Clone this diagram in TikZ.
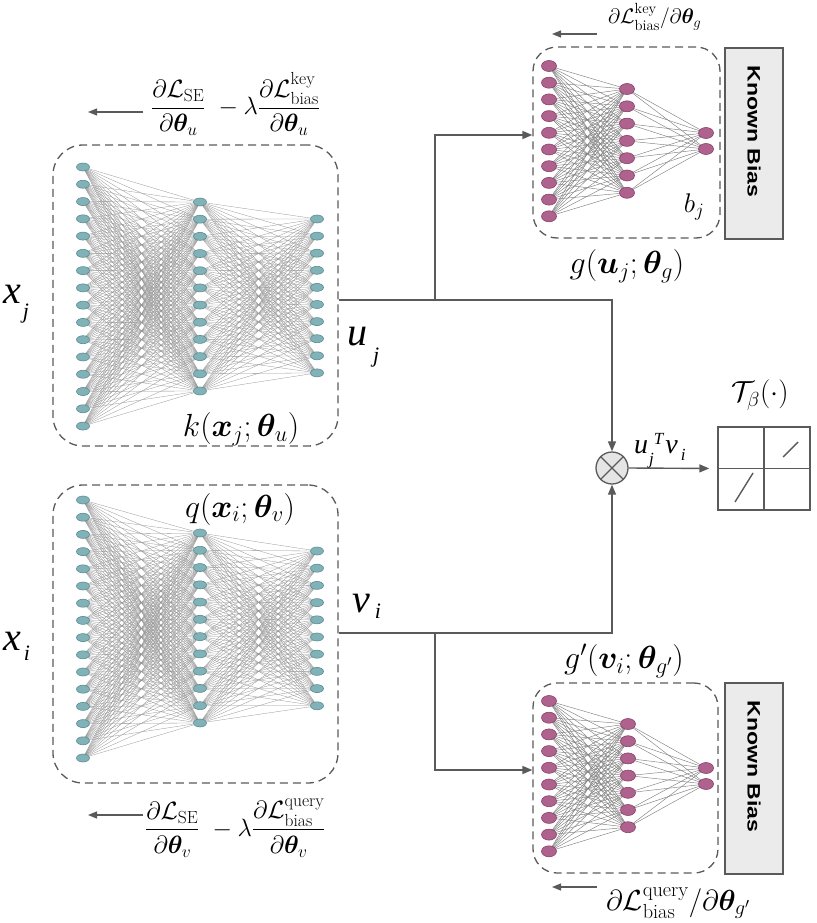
\IfFileExists{fix-cm.sty}{\RequirePackage{fix-cm}}{}
\documentclass[tikz,border=0pt]{standalone}
\usepackage{amsmath,bm}
\usepackage{fontspec}
\usetikzlibrary{arrows.meta,backgrounds,calc,shapes.geometric}
\newfontfamily\tms{Liberation Serif}
\newfontfamily\hel{Liberation Sans}
\definecolor{teala}{HTML}{80B2B8}
\definecolor{tealb}{HTML}{5B8C93}
\definecolor{maga}{HTML}{B0628F}
\definecolor{magb}{HTML}{874268}
\definecolor{dk}{HTML}{5A5A5A}
\newcommand{\mylayer}[6]{\foreach \k in {1,...,#5}{\node[#2] (#1\k) at (#3,{#4+(\k-1)*#6}) {};}}
\newcommand{\mylinks}[5]{\foreach \a in {1,...,#2}{\foreach \b in {1,...,#4}{\draw[#5] (#1\a.center) -- (#3\b.center);}}}
\newcommand{\smallsub}[2]{\raisebox{#1}{\fontsize{22}{22}\selectfont #2}}
\tikzset{
  tnode/.style={ellipse, draw=tealb, fill=teala, line width=0.6pt, minimum width=13pt, minimum height=8pt, inner sep=0pt},
  mnode/.style={ellipse, draw=magb, fill=maga, line width=0.6pt, minimum width=15pt, minimum height=11pt, inner sep=0pt},
  ledge/.style={draw=black!42, line width=0.3pt},
  redge/.style={draw=black!50, line width=0.45pt},
  netbox/.style={draw=dk, dash pattern=on 8pt off 5pt, line width=1.3pt, rounded corners=30pt, inner sep=0pt},
  kbias/.style={draw=dk, fill=black!8, line width=1.3pt, rotate=-90, minimum width=191pt, minimum height=58pt, inner sep=0pt, font=\hel\bfseries\fontsize{18}{18}\selectfont},
  conn/.style={draw=dk, line width=1.4pt},
  arr/.style={conn, -{Triangle[length=10pt,width=8pt]}},
  garr/.style={draw=dk, line width=1.2pt, -{Triangle[length=9pt,width=7pt]}},
  lbl/.style={inner sep=0pt, font=\fontsize{32}{36}\selectfont},
  big/.style={inner sep=0pt, anchor=base west, font=\tms\itshape\fontsize{40}{40}\selectfont},
}
\begin{document}
\begin{tikzpicture}[x=1pt,y=-1pt]
\useasboundingbox (0,0) rectangle (816,923);
% ---- top-left network k
\mylayer{kA}{tnode}{83}{167}{16}{17.27}
\mylayer{kB}{tnode}{200}{202}{12}{17.18}
\mylayer{kC}{tnode}{317}{219}{10}{17.1}
% ---- bottom-left network q
\mylayer{qA}{tnode}{83}{500}{16}{17.2}
\mylayer{qB}{tnode}{200}{533}{12}{17.27}
\mylayer{qC}{tnode}{317}{551}{10}{17.2}
% ---- top-right network g
\mylayer{gA}{mnode}{549}{66}{10}{16.7}
\mylayer{gB}{mnode}{627}{89}{7}{17.3}
\mylayer{gC}{mnode}{706}{133}{2}{16}
% ---- bottom-right network g'
\mylayer{hA}{mnode}{549}{701}{10}{16.7}
\mylayer{hB}{mnode}{628}{724}{7}{17.2}
\mylayer{hC}{mnode}{706}{768}{2}{16}
\begin{scope}[on background layer]
\mylinks{kA}{16}{kB}{12}{ledge}
\mylinks{kB}{12}{kC}{10}{ledge}
\mylinks{qA}{16}{qB}{12}{ledge}
\mylinks{qB}{12}{qC}{10}{ledge}
\mylinks{gA}{10}{gB}{7}{redge}
\mylinks{gB}{7}{gC}{2}{redge}
\mylinks{hA}{10}{hB}{7}{redge}
\mylinks{hB}{7}{hC}{2}{redge}
\end{scope}
% ---- boxes
\node[netbox, minimum width=285pt, minimum height=301pt] (boxK) at (195.5,295.5) {};
\node[netbox, minimum width=285pt, minimum height=298pt] (boxQ) at (195.5,634) {};
\node[netbox, rounded corners=24pt, minimum width=187pt, minimum height=191pt] (boxG) at (626.5,142.5) {};
\node[netbox, rounded corners=24pt, minimum width=185pt, minimum height=190pt] (boxH) at (625.5,778) {};
\node[kbias] (kb1) at (754,143.5) {\scalebox{1.28}[1]{Known Bias}\kern24pt};
\node[kbias] (kb2) at (754,778.5) {\scalebox{1.28}[1]{Known Bias}\kern24pt};
% ---- product and threshold
\node[circle, draw=dk, fill=black!10, line width=1.3pt, minimum size=32pt, inner sep=0pt] (ot) at (612,468) {};
\draw[dk, line width=1.3pt] (ot.north west) -- (ot.south east) (ot.north east) -- (ot.south west);
\node[draw=dk, line width=1.4pt, minimum width=92pt, minimum height=83pt, inner sep=0pt] (tb) at (764,468.5) {};
\draw[dk, line width=1.4pt] (tb.north) -- (tb.south) (tb.west) -- (tb.east);
\draw[dk, line width=1.4pt] (783,457) -- (798,442) (735,502) -- (753,473);
% ---- connectors
\coordinate (jU) at (435,300);
\coordinate (jV) at (435,633);
\draw[arr] ([yshift=-4.5pt]boxK.east) -| (ot.north);
\draw[arr] (jU) |- ([yshift=7.5pt]boxG.west);
\draw[arr] ([yshift=1pt]boxQ.east) -| (ot.south);
\draw[arr] (jV) |- ([yshift=8pt]boxH.west);
\draw[arr, shorten >=8pt] (ot.east) -- (tb.west);
% ---- gradient arrows
\coordinate (gKs) at (143,112); \coordinate (gKe) at (88,112);
\coordinate (gQs) at (143,815); \coordinate (gQe) at (88,815);
\coordinate (gGs) at (597,34); \coordinate (gGe) at (552,34);
\coordinate (gHs) at (597,887); \coordinate (gHe) at (552,887);
\draw[garr] (gKs) -- (gKe);
\draw[garr] (gQs) -- (gQe);
\draw[garr] (gGs) -- (gGe);
\draw[garr] (gHs) -- (gHe);
% ---- labels
\node[lbl] (lk) at (241,429) {$k(\bm{x}_j;\bm{\theta}_u)$};
\node[lbl] (lq) at (240,509) {$q(\bm{x}_i;\bm{\theta}_v)$};
\node[lbl] (lg) at (627,266) {$g(\bm{u}_j;\bm{\theta}_g)$};
\node[lbl] (lh) at (624,661) {$g'(\bm{v}_i;\bm{\theta}_{g'})$};
\node[inner sep=0pt, font=\fontsize{27}{30}\selectfont] (lb) at (694,207) {$b_j$};
\node[inner sep=0pt, font=\fontsize{29}{32}\selectfont] (ltb) at (760,395) {$\mathcal{T}_\beta(\cdot)$};
\node[inner sep=0pt, anchor=west, font=\fontsize{25}{28}\selectfont] (gK) at (151,104) {$\dfrac{\partial\mathcal{L}_{\mathrm{SE}}}{\partial\bm{\theta}_u}\ -\lambda\dfrac{\partial\mathcal{L}^{\mathrm{key}}_{\mathrm{bias}}}{\partial\bm{\theta}_u}$};
\node[inner sep=0pt, anchor=west, font=\fontsize{25}{28}\selectfont] (gQ) at (145,828) {$\dfrac{\partial\mathcal{L}_{\mathrm{SE}}}{\partial\bm{\theta}_v}\ -\lambda\dfrac{\partial\mathcal{L}^{\mathrm{query}}_{\mathrm{bias}}}{\partial\bm{\theta}_v}$};
\node[inner sep=0pt, anchor=west, font=\fontsize{21}{24}\selectfont] (gG) at (608,17) {$\partial\mathcal{L}^{\mathrm{key}}_{\mathrm{bias}}/\partial\bm{\theta}_g$};
\node[inner sep=0pt, anchor=west, font=\fontsize{29}{32}\selectfont] (gH) at (606,903) {$\partial\mathcal{L}^{\mathrm{query}}_{\mathrm{bias}}/\partial\bm{\theta}_{g'}$};
\node[big] (xj) at (3,303) {x\kern2pt\smallsub{-15pt}{j}};
\node[big] (xi) at (3,650) {x\kern3pt\smallsub{-10pt}{i}};
\node[big] (uj) at (347,345) {u\kern6pt\smallsub{-17pt}{j}};
\node[big] (vi) at (352,612) {v\kern5pt\smallsub{-6pt}{i}};
\node[inner sep=0pt, anchor=base west, font=\tms\itshape\fontsize{28}{28}\selectfont] (uv) at (634,453) {u\kern1pt\raisebox{-11pt}{\fontsize{17}{17}\selectfont j}\raisebox{9pt}{\fontsize{17}{17}\selectfont T}\kern2pt v\kern3pt\raisebox{-7pt}{\fontsize{17}{17}\selectfont i}};
\end{tikzpicture}
\end{document}
